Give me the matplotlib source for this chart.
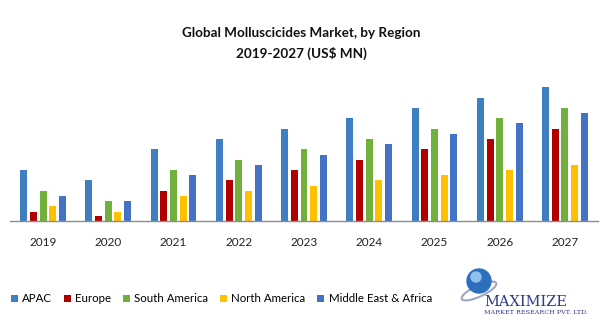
import numpy as np
import matplotlib.pyplot as plt
from matplotlib.patches import Circle, Ellipse

plt.rcParams['font.family'] = ['Lato', 'DejaVu Sans']

years = ['2019', '2020', '2021', '2022', '2023', '2024', '2025', '2026', '2027']
regions = ['APAC', 'Europe', 'South America', 'North America', 'Middle East & Africa']
apac = [51, 41, 72, 82, 92, 103, 113, 123, 134]
europe = [9, 5, 30, 41, 51, 61, 72, 82, 92]
south_america = [30, 20, 51, 61, 72, 82, 92, 103, 113]
north_america = [15, 9, 25, 30, 35, 41, 46, 51, 56]
mea = [25, 20, 46, 56, 66, 77, 87, 98, 108]
colors = ['#3f7fc1', '#b00000', '#72b03c', '#ffc000', '#4472c4']

fig = plt.figure(figsize=(6.02, 3.21), dpi=100)
ax = fig.add_axes([10.4/602, 0.3106, 587.2/602, 0.4361])

x = np.arange(len(years))
series = [apac, europe, south_america, north_america, mea]
w = 0.107
step = 0.149
for k, vals in enumerate(series):
	ax.bar(x + (k - 2)*step, vals, width=w, color=colors[k], label=regions[k])

ax.set_xlim(-0.5, len(years) - 0.5)
ax.set_ylim(0, 140)
ax.set_xticks(x)
ax.set_xticklabels(years, fontsize=8.5, color='#222222')
ax.tick_params(axis='x', length=0, pad=11)
ax.set_yticks([])
for s in ['top', 'right', 'left']:
	ax.spines[s].set_visible(False)
ax.spines['bottom'].set_color('#8c8c8c')
ax.spines['bottom'].set_linewidth(1)

fig.text(0.5, 1 - 33/321, 'Global Molluscicides Market, by Region', ha='center', va='center',
	fontsize=9.7, fontweight='bold', color='#111111')
fig.text(0.5, 1 - 53/321, '2019-2027 (US$ MN)', ha='center', va='center',
	fontsize=9.7, fontweight='bold', color='#111111')

fig.legend(loc='center left', bbox_to_anchor=(6/602, 1 - 299/321), ncol=5, frameon=False,
	fontsize=8.3, handlelength=0.6, handleheight=0.6, handletextpad=0.4, columnspacing=1.0,
	borderaxespad=0)

# logo
lax = fig.add_axes([455/602, 0, 147/602, 80/321])
lax.set_xlim(0, 147)
lax.set_ylim(0, 80)
lax.axis('off')
lax.add_patch(Ellipse((24, 30), 38, 11, angle=25, fill=False, ec='#9aa8c0', lw=1.5))
lax.add_patch(Circle((24, 40), 12, color='#2d6fbf'))
lax.add_patch(Circle((21, 44), 5, color='#8fc0ee'))
lax.text(29, 19, 'MAXIMIZE', fontsize=10.5, family='DejaVu Serif', color='#2e3a8c', va='center')
lax.text(29, 8, 'MARKET RESEARCH PVT. LTD.', fontsize=4.6, family='DejaVu Serif', color='#2e3a8c', va='center')

plt.savefig('out.png', dpi=100)
plt.close('all')
